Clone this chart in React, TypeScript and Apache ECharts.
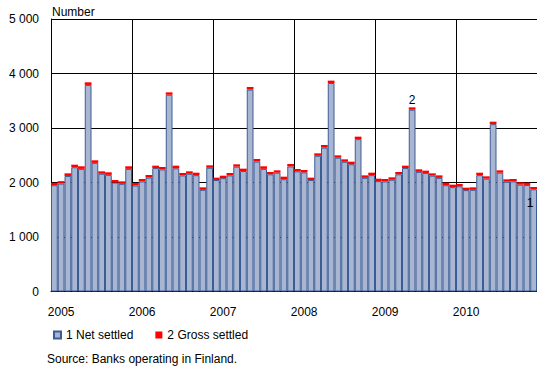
import React, { useEffect, useRef } from "react";
import * as echarts from "echarts";

const years = ["2005", "2006", "2007", "2008", "2009", "2010"];
const monthNames = ["01", "02", "03", "04", "05", "06", "07", "08", "09", "10", "11", "12"];

const netSettled = [
  1950, 1980, 2120, 2280, 2250, 3790, 2360, 2160, 2140, 2000, 1975, 2250,
  1945, 2020, 2090, 2265, 2240, 3610, 2260, 2130, 2160, 2135, 1865, 2270,
  2045, 2080, 2130, 2290, 2210, 3705, 2385, 2250, 2150, 2180, 2060, 2295,
  2205, 2185, 2045, 2490, 2640, 3825, 2455, 2380, 2335, 2795, 2085, 2135,
  2025, 2020, 2050, 2150, 2265, 3335, 2195, 2175, 2125, 2085, 1950, 1915,
  1930, 1860, 1865, 2135, 2070, 3070, 2180, 2015, 2020, 1960, 1955, 1875,
];

const grossSettled = [
  45, 45, 48, 47, 47, 48, 47, 45, 47, 46, 46, 47,
  46, 44, 48, 44, 44, 44, 49, 44, 45, 45, 46, 45,
  44, 45, 44, 43, 44, 47, 46, 47, 43, 43, 47, 45,
  43, 44, 44, 45, 48, 44, 43, 45, 47, 46, 46, 45,
  45, 44, 45, 43, 44, 44, 47, 42, 43, 46, 47, 45,
  42, 45, 46, 45, 43, 46, 43, 43, 44, 43, 42, 42,
];

const yTicks = [0, 1000, 2000, 3000, 4000, 5000];

const categories: string[] = [];
years.forEach((y) => monthNames.forEach((m) => categories.push(`${y}-${m}`)));

const FONT = "'Liberation Sans', Arial, sans-serif";

export default function App() {
  const ref = useRef<HTMLDivElement>(null);
  useEffect(() => {
    if (!ref.current) return;
    const chart = echarts.init(ref.current, undefined, { renderer: "svg" });
    const lastIdx = netSettled.length - 1;
    const peak2009 = 12 * 4 + 5;
    chart.setOption({
      animation: false,
      backgroundColor: "#ffffff",
      textStyle: { fontFamily: FONT },
      grid: { left: 51, top: 19, right: -3, bottom: 77.5, containLabel: false },
      legend: {
        left: 48,
        top: 324,
        icon: "rect",
        itemWidth: 7,
        itemHeight: 7,
        itemGap: 22,
        textStyle: { fontFamily: FONT, fontSize: 12, color: "#000" },
        data: ["1 Net settled", "2 Gross settled"],
      },
      xAxis: {
        type: "category",
        data: categories,
        boundaryGap: true,
        axisLine: { show: true, lineStyle: { color: "#000", width: 1 } },
        axisTick: {
          show: true,
          inside: true,
          length: 3,
          interval: (i: number) => i % 12 === 0,
          lineStyle: { color: "#000" },
        },
        axisLabel: {
          show: true,
          interval: (i: number) => i % 12 === 1,
          formatter: (v: string) => v.slice(0, 4),
          fontFamily: FONT,
          fontSize: 12,
          color: "#000",
          margin: 14,
        },
        splitLine: {
          show: true,
          interval: (i: number) => i % 12 === 0,
          lineStyle: { color: "#000", width: 1 },
        },
      },
      yAxis: {
        type: "value",
        min: yTicks[0],
        max: yTicks[yTicks.length - 1],
        interval: 1000,
        axisLine: { show: true, lineStyle: { color: "#000", width: 1 } },
        axisTick: { show: false },
        axisLabel: {
          fontFamily: FONT,
          fontSize: 12,
          color: "#000",
          margin: 12,
          formatter: (v: number) => (v >= 1000 ? `${Math.floor(v / 1000)} ${String(v % 1000).padStart(3, "0")}` : String(v)),
        },
        splitLine: { show: true, lineStyle: { color: "#000", width: 1 } },
      },
      series: [
        {
          name: "1 Net settled",
          type: "bar",
          stack: "total",
          barCategoryGap: "0%",
          itemStyle: { color: "#a9b6d2", borderColor: "#3c5c96", borderWidth: 1 },
          data: netSettled.map((v, i) =>
            i === lastIdx
              ? {
                  value: v,
                  label: {
                    show: true,
                    position: [-3.5, 14],
                    align: "left",
                    verticalAlign: "middle",
                    formatter: "1",
                    fontFamily: FONT,
                    fontSize: 12,
                    color: "#000",
                  },
                }
              : v
          ),
        },
        {
          name: "2 Gross settled",
          type: "bar",
          stack: "total",
          barCategoryGap: "0%",
          itemStyle: { color: "#ff0000" },
          data: grossSettled.map((v, i) =>
            i === peak2009
              ? {
                  value: v,
                  label: {
                    show: true,
                    position: "top",
                    distance: 1,
                    formatter: "2",
                    fontFamily: FONT,
                    fontSize: 12,
                    color: "#000",
                  },
                }
              : v
          ),
        },
      ],
      graphic: [
        {
          type: "text",
          x: 52,
          y: 12,
          style: { text: "Number", font: `12px ${FONT}`, fill: "#000", textVerticalAlign: "middle" },
        },
        {
          type: "text",
          x: 47,
          y: 359,
          style: {
            text: "Source: Banks operating in Finland.",
            font: `12px ${FONT}`,
            fill: "#000",
            textVerticalAlign: "middle",
          },
        },
      ],
    });
    return () => chart.dispose();
  }, []);
  return (
    <div
      ref={ref}
      style={{ position: "absolute", left: 0, top: 0, width: 537, height: 369, overflow: "hidden" }}
    />
  );
}
